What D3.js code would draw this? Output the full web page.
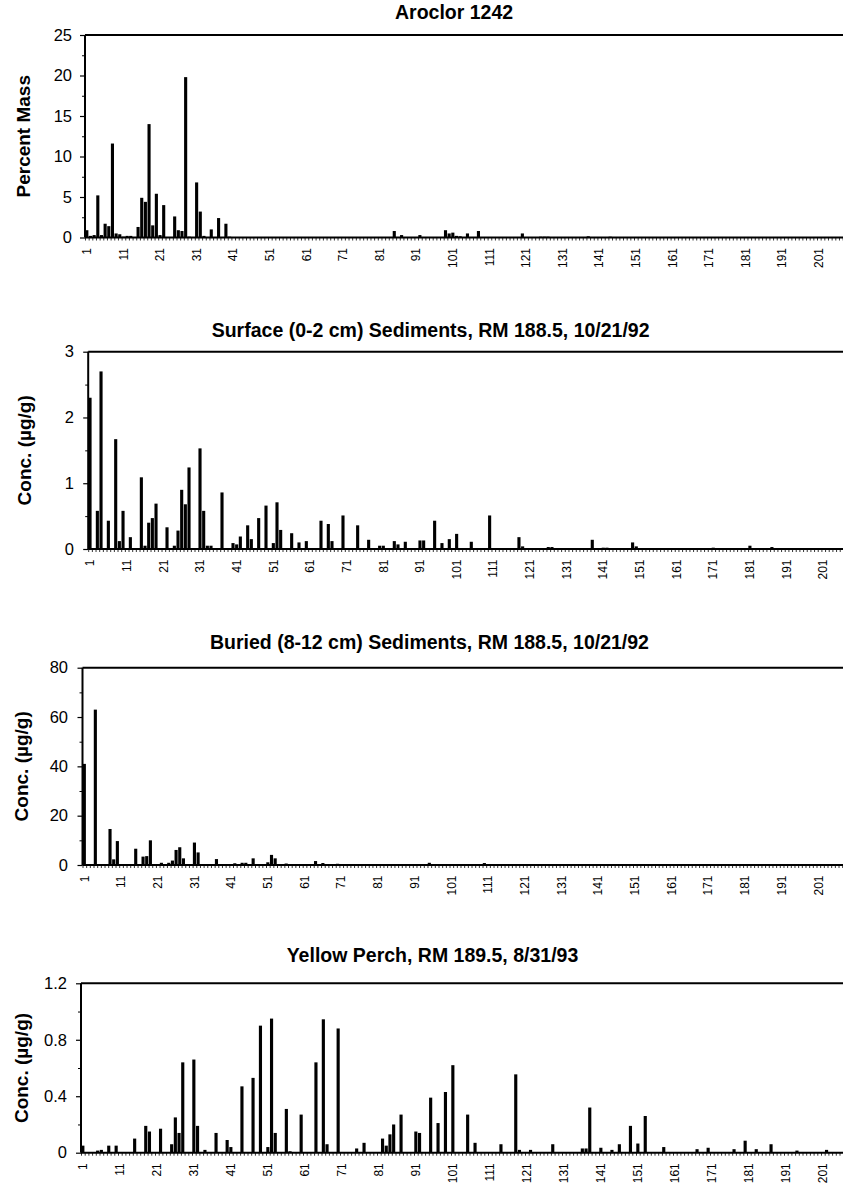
<!DOCTYPE html>
<html><head><meta charset="utf-8">
<script src="https://cdn.jsdelivr.net/npm/d3@7"></script>
<style>
body{margin:0;background:#fff}
svg{display:block}
text{font-family:"Liberation Sans",Arial,sans-serif;fill:#000}
</style>
</head><body>
<svg id="c" width="843" height="1185"></svg>
<script>
// ---------- data ----------
const congeners = d3.range(1, 210);           // PCB congener numbers 1..209
const xTickLabels = d3.range(1, 202, 10);     // 1, 11, ..., 201

const titles = [
  "Aroclor 1242",
  "Surface (0-2 cm) Sediments, RM 188.5, 10/21/92",
  "Buried (8-12 cm) Sediments, RM 188.5, 10/21/92",
  "Yellow Perch, RM 189.5, 8/31/93"
];
const yTitles = ["Percent Mass", "Conc. (µg/g)", "Conc. (µg/g)", "Conc. (µg/g)"];

const yTicks1 = [0, 5, 10, 15, 20, 25];
const yTicks2 = [0, 1, 2, 3];
const yTicks3 = [0, 20, 40, 60, 80];
const yTicks4 = [0, 0.4, 0.8, 1.2];

// [congener, value]
const aroclor1242 = [[1,0.9],[2,0.2],[3,0.3],[4,5.2],[5,0.3],[6,1.7],[7,1.4],[8,11.6],[9,0.5],[10,0.4],[11,0.1],[12,0.2],[13,0.2],[15,1.3],[16,4.9],[17,4.4],[18,14.0],[19,1.5],[20,5.4],[21,0.3],[22,4.0],[25,2.6],[26,0.9],[27,0.8],[28,19.8],[29,0.1],[31,6.8],[32,3.2],[33,0.2],[35,1.0],[37,2.4],[39,1.7],[40,0.1],[85,0.8],[87,0.3],[92,0.3],[99,0.9],[100,0.5],[101,0.6],[102,0.2],[103,0.15],[105,0.5],[108,0.8],[120,0.5],[125,0.1],[126,0.1],[127,0.1],[138,0.15],[144,0.1]];

const surface = [[1,2.3],[3,0.58],[4,2.7],[6,0.43],[8,1.67],[9,0.12],[10,0.58],[12,0.18],[15,1.09],[16,0.05],[17,0.40],[18,0.47],[19,0.69],[22,0.33],[24,0.05],[25,0.28],[26,0.90],[27,0.68],[28,1.24],[31,1.53],[32,0.58],[33,0.05],[34,0.05],[37,0.86],[40,0.09],[41,0.07],[42,0.19],[44,0.36],[45,0.15],[47,0.47],[49,0.66],[51,0.09],[52,0.71],[53,0.29],[56,0.24],[58,0.10],[60,0.12],[64,0.43],[66,0.38],[67,0.12],[70,0.51],[74,0.36],[77,0.14],[80,0.05],[81,0.05],[84,0.12],[85,0.07],[87,0.11],[91,0.13],[92,0.13],[95,0.43],[97,0.09],[99,0.15],[101,0.23],[105,0.11],[110,0.51],[118,0.18],[119,0.04],[126,0.03],[127,0.03],[138,0.14],[141,0.02],[142,0.02],[149,0.10],[150,0.04],[171,0.02],[181,0.05],[187,0.03]];

const buried = [[1,41],[4,63],[8,14.6],[9,2.3],[10,9.7],[15,6.6],[17,3.4],[18,3.6],[19,10.0],[22,0.9],[24,0.9],[25,1.8],[26,6.1],[27,7.2],[28,2.7],[31,9.1],[32,5.1],[37,2.4],[42,0.7],[44,0.9],[45,0.9],[47,2.7],[51,1.1],[52,4.1],[53,2.7],[56,0.6],[60,0.3],[64,1.6],[66,0.8],[70,0.5],[74,0.4],[77,0.2],[84,0.3],[87,0.3],[91,0.4],[92,0.3],[95,0.9],[99,0.3],[101,0.4],[105,0.2],[110,0.8],[118,0.3],[138,0.2],[149,0.15]];

const perch = [[1,0.05],[5,0.015],[6,0.02],[8,0.05],[10,0.05],[15,0.10],[18,0.19],[19,0.15],[22,0.17],[25,0.06],[26,0.25],[27,0.14],[28,0.64],[31,0.66],[32,0.19],[34,0.02],[37,0.14],[40,0.09],[41,0.04],[44,0.47],[47,0.53],[49,0.90],[51,0.04],[52,0.95],[53,0.14],[56,0.31],[57,0.01],[60,0.27],[64,0.64],[66,0.945],[67,0.06],[70,0.88],[75,0.03],[77,0.07],[82,0.10],[83,0.05],[84,0.13],[85,0.20],[87,0.27],[91,0.15],[92,0.14],[95,0.39],[97,0.21],[99,0.43],[101,0.62],[105,0.27],[107,0.07],[114,0.06],[118,0.555],[119,0.02],[122,0.02],[128,0.06],[136,0.03],[137,0.03],[138,0.32],[141,0.035],[144,0.02],[146,0.06],[149,0.19],[151,0.065],[153,0.26],[158,0.04],[167,0.025],[170,0.035],[177,0.025],[180,0.085],[183,0.025],[187,0.06],[194,0.015],[202,0.02]];

// ---------- layout ----------
const W = 843;
const fmtInt = d3.format("d");
const fmtDec = d => d === 0 ? "0" : d3.format(".1f")(d);
const panels = [
  {title:titles[0], yTitle:yTitles[0], data:aroclor1242, ticks:yTicks1, yMax:25, fmt:fmtInt,
   left:85, step:3.66, top:35, zero:237.5, labelRight:72, titleX:395, titleY:19, yTitleX:30},
  {title:titles[1], yTitle:yTitles[1], data:surface, ticks:yTicks2, yMax:3, fmt:fmtInt,
   left:88.2, step:3.666, top:351.7, zero:549, labelRight:74, titleX:211.7, titleY:337, yTitleX:31},
  {title:titles[2], yTitle:yTitles[2], data:buried, ticks:yTicks3, yMax:80, fmt:fmtInt,
   left:82.5, step:3.67, top:667.7, zero:865, labelRight:68, titleX:210, titleY:649, yTitleX:28},
  {title:titles[3], yTitle:yTitles[3], data:perch, ticks:yTicks4, yMax:1.2, fmt:fmtDec,
   left:81, step:3.7, top:983.3, zero:1152.7, labelRight:67, titleX:286.7, titleY:961.5, yTitleX:28}
];

const svg = d3.select("#c");

panels.forEach(p => {
  const g = svg.append("g");
  const right = p.left + congeners.length * p.step;
  const x = d3.scaleBand().domain(congeners).range([p.left, right])
    .paddingInner(0.15).paddingOuter(0.075);
  const xEdge = d3.scaleLinear().domain([0, congeners.length]).range([p.left, right]);
  const y = d3.scaleLinear().domain([0, p.yMax]).range([p.zero, p.top]);
  const vals = new Map(p.data);

  // bars
  g.append("g").selectAll("rect")
    .data(congeners.filter(c => vals.has(c)))
    .join("rect")
    .attr("x", c => x(c))
    .attr("width", x.bandwidth())
    .attr("y", c => y(vals.get(c)))
    .attr("height", c => y(0) - y(vals.get(c)))
    .attr("fill", "#000");

  // category boundary tick marks
  const minorX = g.append("g").attr("transform", `translate(0,${p.zero})`)
    .call(d3.axisBottom(xEdge).tickValues(d3.range(0, congeners.length + 1)).tickSize(3).tickFormat(""));
  minorX.select(".domain").remove();
  minorX.selectAll("line").attr("stroke", "#000").attr("stroke-width", 0.8);

  // x labels (rotated)
  const xa = g.append("g").attr("transform", `translate(0,${p.zero})`)
    .call(d3.axisBottom(x).tickValues(xTickLabels).tickSize(0).tickPadding(0));
  xa.select(".domain").remove();
  xa.selectAll("text")
    .attr("transform", "rotate(-90)")
    .attr("x", -10.5).attr("y", 0).attr("dy", "0.35em")
    .attr("text-anchor", "end")
    .style("font-size", "12px");

  // y axis major ticks + labels
  const ya = g.append("g").attr("transform", `translate(${p.left},0)`)
    .call(d3.axisLeft(y).tickValues(p.ticks).tickSize(5)
      .tickPadding(p.left - 5 - p.labelRight).tickFormat(p.fmt));
  ya.select(".domain").remove();
  ya.selectAll("line").attr("stroke", "#000").attr("stroke-width", 1.2);
  ya.selectAll("text").style("font-size", "16.5px");

  // y axis minor ticks (midpoints)
  const mids = d3.pairs(p.ticks).map(([a, b]) => (a + b) / 2);
  const ym = g.append("g").attr("transform", `translate(${p.left},0)`)
    .call(d3.axisLeft(y).tickValues(mids).tickSize(3).tickFormat(""));
  ym.select(".domain").remove();
  ym.selectAll("line").attr("stroke", "#000").attr("stroke-width", 1);

  // frame lines: left axis, top border, bottom axis
  g.append("line").attr("x1", p.left).attr("x2", p.left).attr("y1", p.top).attr("y2", p.zero)
    .attr("stroke", "#000").attr("stroke-width", 2);
  g.append("line").attr("x1", p.left).attr("x2", W).attr("y1", p.top).attr("y2", p.top)
    .attr("stroke", "#000").attr("stroke-width", 2);
  g.append("line").attr("x1", p.left).attr("x2", W).attr("y1", p.zero).attr("y2", p.zero)
    .attr("stroke", "#000").attr("stroke-width", 2);

  // titles
  g.append("text").attr("x", p.titleX).attr("y", p.titleY)
    .style("font-size", "19.5px").style("font-weight", "bold").text(p.title);
  g.append("text")
    .attr("transform", `translate(${p.yTitleX},${(p.top + p.zero) / 2}) rotate(-90)`)
    .attr("text-anchor", "middle")
    .style("font-size", "19px").style("font-weight", "bold").text(p.yTitle);
});
</script>
</body></html>
